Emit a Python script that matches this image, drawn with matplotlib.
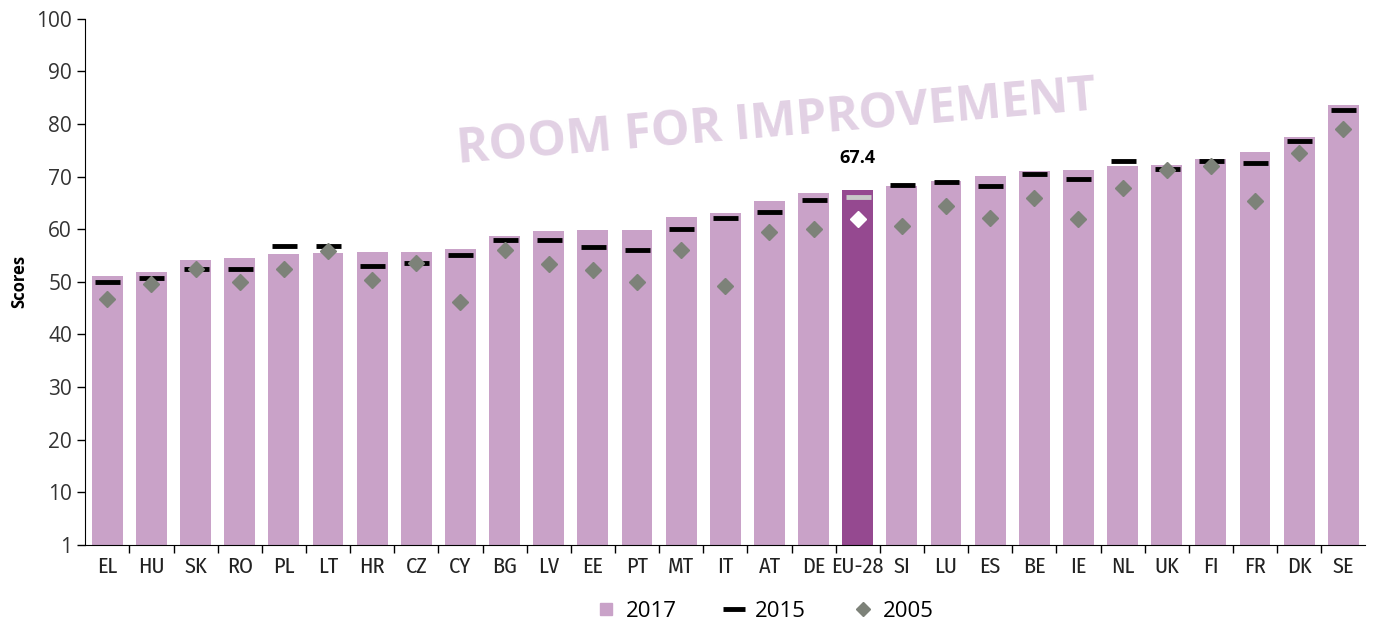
import numpy as np
import matplotlib
matplotlib.use('Agg')
import matplotlib.pyplot as plt
from matplotlib.lines import Line2D

# Data
countries = ['EL', 'HU', 'SK', 'RO', 'PL', 'LT', 'HR', 'CZ', 'CY', 'BG', 'LV', 'EE', 'PT', 'MT',
             'IT', 'AT', 'DE', 'EU-28', 'SI', 'LU', 'ES', 'BE', 'IE', 'NL', 'UK', 'FI', 'FR', 'DK', 'SE']
score_2017 = [51.2, 51.9, 54.1, 54.5, 55.2, 55.5, 55.6, 55.7, 56.3, 58.8, 59.7, 59.8, 59.9, 62.4,
              63.0, 65.3, 66.9, 67.4, 68.3, 69.2, 70.1, 71.1, 71.3, 72.1, 72.2, 73.4, 74.6, 77.5, 83.6]
score_2015 = [50.0, 50.8, 52.4, 52.4, 56.8, 56.8, 53.1, 53.6, 55.1, 58.0, 57.9, 56.7, 56.0, 60.1,
              62.1, 63.3, 65.5, 66.2, 68.4, 69.0, 68.3, 70.5, 69.5, 72.9, 71.5, 73.0, 72.6, 76.8, 82.6]
score_2005 = [46.8, 49.5, 52.5, 49.9, 52.4, 55.8, 50.3, 53.6, 46.1, 56.0, 53.4, 52.2, 49.9, 56.1,
              49.2, 59.5, 60.0, 62.0, 60.6, 64.5, 62.2, 66.0, 61.9, 67.8, 71.2, 72.0, 65.3, 74.5, 79.0]
ytick_vals = [0, 10, 20, 30, 40, 50, 60, 70, 80, 90, 100]
ytick_labels = ['1', '10', '20', '30', '40', '50', '60', '70', '80', '90', '100']

bar_col = '#c9a2c8'
eu_col = '#954990'
dia_col = '#7d8279'

plt.rcParams['font.family'] = ['Open Sans', 'DejaVu Sans']

fig = plt.figure(figsize=(13.75, 6.27), dpi=100)
ax = fig.add_axes([0.062, 0.131, 0.931, 0.839])

x = np.arange(len(countries))
eu = countries.index('EU-28')
colors = [eu_col if c == 'EU-28' else bar_col for c in countries]
ax.bar(x, score_2017, width=0.7, color=colors, zorder=1)

# 2015 dashes and 2005 diamonds (EU-28 highlighted)
others = [i for i in x if i != eu]
ax.plot(x[others], np.array(score_2015)[others], ls='none', marker='_', ms=18, mew=3.5,
        color='black', zorder=3)
ax.plot([eu], [score_2015[eu]], ls='none', marker='_', ms=18, mew=3.5, color='#c8c8c8', zorder=3)
ax.plot(x[others], np.array(score_2005)[others], ls='none', marker='D', ms=8,
        color=dia_col, zorder=4)
ax.plot([eu], [score_2005[eu]], ls='none', marker='D', ms=8, color='white', zorder=4)

ax.text(eu, score_2017[eu] + 4.5, '67.4', ha='center', va='bottom', fontsize=13,
        fontweight='bold')

ax.text(0.54, 0.8, 'ROOM FOR IMPROVEMENT', transform=ax.transAxes, ha='center', va='center',
        fontsize=35, fontweight='bold', color='#e2d1e4', rotation=4.8, zorder=0)

ax.set_xlim(-0.5, len(countries) - 0.5)
ax.set_ylim(0, 100)
ax.set_yticks(ytick_vals)
ax.set_yticklabels(ytick_labels, fontsize=15, color='#333333')
ax.set_xticks(x)
ax.set_xticklabels(countries, fontsize=16, family=['Fira Sans Condensed', 'Open Sans'],
                   fontweight='normal', color='#222222')
ax.set_xticks(x[:-1] + 0.5, minor=True)
ax.tick_params(axis='x', which='major', length=0, pad=8)
ax.tick_params(axis='x', which='minor', length=6, width=1)
ax.tick_params(axis='y', length=6, width=1)
ax.set_ylabel('Scores', fontsize=12, fontweight='bold', labelpad=6)
for s in ['top', 'right']:
    ax.spines[s].set_visible(False)

handles = [
    Line2D([], [], ls='none', marker='s', ms=9, color=bar_col),
    Line2D([], [], ls='none', marker='_', ms=16, mew=3.5, color='black'),
    Line2D([], [], ls='none', marker='D', ms=7, color=dia_col),
]
fig.legend(handles, ['2017', '2015', '2005'], loc='center', bbox_to_anchor=(0.555, 0.025),
           ncol=3, frameon=False, fontsize=16, handlelength=1.2, handletextpad=0.3,
           columnspacing=2.0)

fig.savefig('out.png', dpi=100)
